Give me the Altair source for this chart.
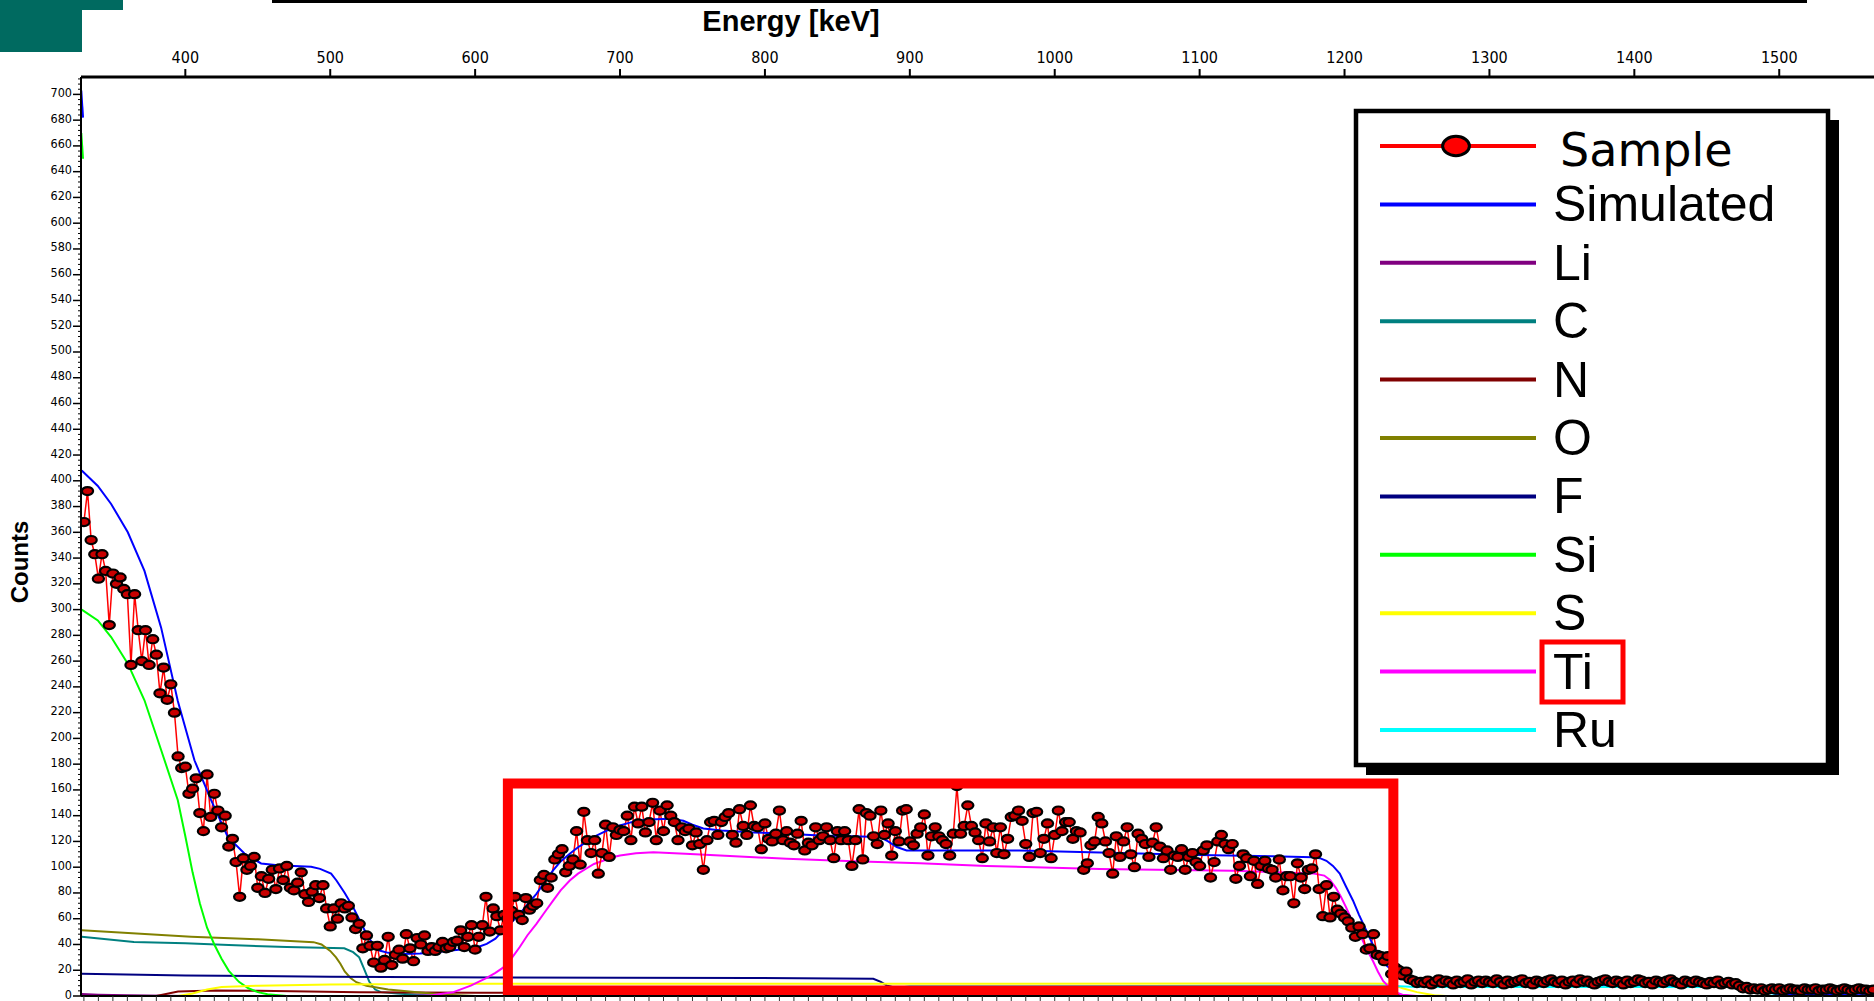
import altair as alt
import pandas as pd

# ---------------- data ----------------
SAMPLE_START = 330.0   # keV, first channel
SAMPLE_STEP = 2.5      # keV per channel
SAMPLE_COUNTS = [
    # 330 - 377.5
    368, 392, 354, 343, 324, 343, 330, 288, 328, 320, 325, 316, 312, 257, 312, 284, 260, 284, 257, 277,
    # 380 - 427.5
    265, 235, 255, 230, 242, 220, 186, 177, 178, 157, 161, 169, 142, 128, 172, 139, 157, 144, 131, 140,
    # 430 - 477.5
    116, 122, 104, 77, 107, 98, 101, 108, 84, 93, 80, 91, 98, 83, 99, 90, 101, 84, 82, 88,
    # 480 - 527.5
    96, 79, 73, 81, 86, 76, 86, 68, 54, 68, 60, 72, 68, 70, 61, 52, 56, 37, 47, 39,
    # 530 - 577.5
    26, 39, 22, 28, 46, 24, 32, 36, 29, 48, 37, 27, 45, 40, 47, 35, 38, 35, 38, 42,
    # 580 - 627.5
    37, 38, 42, 43, 51, 38, 46, 55, 36, 46, 55, 77, 50, 68, 62, 51, 63, 60, 66, 77,
    # 630 - 677.5
    63, 59, 76, 67, 70, 72, 90, 94, 84, 92, 106, 110, 114, 96, 101, 106, 128, 102, 143, 121,
    # 680 - 727.5
    111, 121, 95, 111, 133, 108, 131, 125, 129, 128, 140, 121, 147, 134, 147, 127, 135, 150, 121, 144,
    # 730 - 777.5
    128, 148, 140, 135, 121, 131, 128, 130, 117, 127, 118, 98, 121, 135, 136, 125, 135, 139, 142, 125,
    # 780 - 827.5
    119, 145, 132, 125, 148, 132, 131, 114, 134, 122, 120, 126, 144, 121, 128, 119, 117, 126, 136, 113,
    # 830 - 877.5
    119, 117, 131, 121, 124, 131, 121, 107, 128, 121, 128, 121, 101, 121, 145, 106, 142, 140, 124, 118,
    # 880 - 927.5
    144, 125, 134, 109, 128, 120, 144, 145, 120, 117, 126, 131, 141, 109, 124, 131, 124, 121, 118, 109,
    # 930 - 977.5
    126, 163, 126, 132, 148, 132, 127, 121, 107, 134, 120, 131, 111, 131, 110, 122, 139, 140, 144, 136,
    # 980 - 1027.5
    118, 108, 142, 143, 111, 122, 134, 107, 125, 144, 128, 135, 135, 122, 128, 127, 98, 103, 117, 120,
    # 1030 - 1077.5
    139, 134, 120, 111, 95, 124, 108, 120, 131, 110, 100, 126, 122, 118, 108, 119, 131, 116, 107, 113,
    # 1080 - 1127.5
    98, 109, 108, 114, 98, 108, 111, 104, 101, 113, 117, 92, 104, 120, 125, 118, 114, 118, 91, 101,
    # 1130 - 1177.5
    110, 107, 93, 105, 87, 101, 105, 99, 98, 92, 106, 82, 93, 93, 72, 103, 92, 83, 98, 99,
    # 1180 - 1227.5
    110, 83, 62, 86, 61, 77, 67, 64, 61, 58, 53, 46, 54, 48, 36, 37, 48, 32, 31, 27,
    # 1230 - 1277.5
    31, 17, 22, 20, 16, 19, 13, 12, 10, 11, 10, 12, 9, 11, 13, 10, 12, 11, 9, 12,
    # 1280 - 1327.5
    10, 11, 13, 9, 11, 12, 10, 12, 11, 10, 13, 11, 9, 12, 10, 11, 12, 13, 10, 11,
    # 1330 - 1377.5
    9, 12, 11, 10, 12, 13, 11, 10, 12, 9, 11, 12, 10, 13, 11, 12, 10, 9, 11, 12,
    # 1380 - 1427.5
    13, 11, 10, 12, 11, 9, 12, 10, 11, 13, 12, 10, 11, 9, 12, 11, 10, 12, 13, 11,
    # 1430 - 1477.5
    10, 9, 12, 11, 10, 12, 11, 10, 9, 11, 10, 12, 9, 10, 11, 9, 10, 8, 6, 7,
    # 1480 - 1527.5
    5, 6, 5, 6, 4, 5, 6, 5, 6, 4, 5, 6, 5, 5, 4, 6, 5, 5, 6, 4,
    # 1530 - 1565
    5, 5, 6, 5, 4, 5, 6, 5, 4, 5, 6, 5, 5, 4, 5,
]

SIMULATED = [
    (328.5, 408), (339.6, 396), (348.8, 382), (360.3, 360), (371.8, 330), (383.3, 286),
    (394.8, 229), (406.3, 183), (417.8, 152), (429.3, 123.5), (440.8, 110.6), (452.3, 102.9),
    (463.8, 101.6), (475, 101), (486.8, 100.3), (493, 98.7), (500.6, 95), (504.3, 89.7),
    (510, 80), (515.8, 69), (522.7, 53.4), (526, 46), (529.6, 40.5), (534, 35.3), (540, 33.5),
    (550, 32.7), (562, 33), (573, 34), (585, 35.5), (596, 36.6), (602, 38), (608, 40.5),
    (614, 44.5), (619.3, 50.9), (625, 57), (630.8, 63.8), (636, 71), (642.3, 79.3), (648, 88.5),
    (653.8, 97.5), (659, 104.5), (665.3, 110.4), (671, 115.5), (676.8, 119.4), (682, 123.5),
    (688.3, 127), (694, 130), (699.8, 132.4), (705, 134), (711.5, 136), (720, 137),
    (734.5, 137.7), (743.7, 136), (750, 133), (757.5, 130), (770, 128.5), (792, 127),
    (815, 126), (838, 124.7), (860, 124), (879, 123.5), (885, 120), (891, 115.7), (897.8, 113),
    (910, 113), (976, 113), (1031, 111.4), (1100, 109.5), (1150, 108.5), (1178, 107.8),
    (1183, 107), (1187.5, 105), (1192, 101), (1196.7, 95), (1201, 85), (1205.9, 74),
    (1210, 63), (1215, 51), (1219.5, 40), (1224, 30), (1228.5, 24), (1233, 20), (1240, 16),
    (1247, 13), (1255, 10.5), (1265, 9.5), (1300, 9), (1400, 8.5), (1470, 8), (1480, 6),
    (1490, 3), (1500, 1.5), (1520, 1), (1565, 0.5),
]
SIMULATED_TOP = [(328.2, 703), (329.4, 682)]

LI = [(328.5, 1.5), (340, 1), (360, 0.5), (400, 0)]
C_EL = [(328.5, 46), (364.5, 42), (400, 41), (430, 39.5), (470, 38), (509.7, 37), (515.8, 34),
        (520, 30), (523, 22), (527, 11), (531, 5), (535, 3), (546, 2), (560, 1), (580, 0)]
N_EL = [(380, 0), (395, 3.5), (420, 4.2), (450, 4), (520, 3), (600, 2.5), (900, 2),
        (1230, 1.5), (1245, 0)]
O_EL = [(328.5, 51), (404, 46), (450, 44), (488.5, 41.8), (494, 40), (500, 35), (504, 30),
        (507, 25), (510, 19), (514, 14), (518, 10.7), (525, 8), (540, 5), (560, 3), (580, 1),
        (600, 0)]
F_EL = [(328.5, 17.3), (400, 16), (500, 15), (615, 14.4), (700, 14.1), (792, 14),
        (874.8, 13.4), (880, 11), (884, 8.2), (888.6, 6.9), (895, 6), (910, 2)]
SI = [(328.5, 300), (339.6, 291.6), (348.8, 278.7), (360.3, 258), (371.8, 229.6),
      (383.3, 191), (394.8, 152), (400, 124), (405, 96), (410, 72), (415, 53), (420, 40),
      (425, 29), (430, 19.5), (437, 11), (443.5, 6), (450, 3), (456.7, 1.4), (470, 0)]
SI_TOP = [(328.2, 670), (329.4, 650)]
S_EL = [(395, 0), (405, 2), (415, 5), (425, 7), (450, 8), (500, 9), (600, 9.5), (900, 9.5),
        (1200, 9.8), (1232, 9.5), (1240, 6), (1250, 3), (1262, 0.5), (1270, 0)]
TI = [(555, 0), (570, 0.5), (585, 3), (597, 8), (608, 14), (614, 18), (619.3, 22), (625, 29),
      (630.8, 38), (636, 47), (642.3, 56), (648, 65), (653.8, 74), (659, 82), (665.3, 89.7),
      (671, 95), (676.8, 99), (682, 102.5), (688.3, 105), (694, 107.5), (700, 109),
      (711, 110.9), (723, 111.7), (745, 110.5), (769, 109), (815, 106.6), (861, 104.7),
      (907, 103), (953, 101), (1031, 98.6), (1123, 97.3), (1178, 95.2), (1186, 93.5),
      (1190, 90), (1194, 84), (1197.5, 77), (1201, 69), (1205, 59), (1210.5, 48), (1215, 37),
      (1219.7, 27), (1223, 19), (1226.6, 11.7), (1231, 6.6), (1235, 3), (1240, 1), (1250, 0)]
RU = [(870, 0), (890, 6), (900, 7.5), (1230, 8), (1250, 7), (1470, 7), (1485, 4), (1500, 1),
      (1510, 0)]

LEGEND_NAMES = ["Sample", "Simulated", "Li", "C", "N", "O", "F", "Si", "S", "Ti", "Ru"]
LEGEND_COLORS = ["#FF0000", "#0000FF", "#800080", "#008080", "#800000", "#808000",
                 "#000080", "#00FF00", "#FFFF00", "#FF00FF", "#00FFFF"]

# highlight box (energy keV, counts)
BOX_E = [622.6, 1233.7]
BOX_C = [4.3, 165]

X_TICKS = list(range(400, 1600, 100))
X_MINOR = list(range(330, 1570, 10))
Y_TICKS = list(range(0, 720, 20))
Y_MINOR = [v for v in range(0, 716, 4) if v % 20 != 0]
X_TITLE = "Energy [keV]"
Y_TITLE = "Counts"

# ---------------- geometry ----------------
W, H = 1793, 919
X_DOM = [328.0, 1565.4]
Y_DOM = [0, 713.5]
NARROW = "Liberation Sans Narrow, Arial Narrow, DejaVu Sans Condensed, Liberation Sans, Arial, sans-serif"
ELLIPSE = "M -1 0 A 1 0.72 0 1 0 1 0 A 1 0.72 0 1 0 -1 0 Z"

xs = alt.Scale(domain=X_DOM, nice=False, zero=False)
ys = alt.Scale(domain=Y_DOM, nice=False, zero=False)
XN = alt.X("E:Q", scale=xs, axis=None)
YN = alt.Y("C:Q", scale=ys, axis=None)

# ---------------- frames ----------------
sample_df = pd.DataFrame({
    "E": [SAMPLE_START + SAMPLE_STEP * i for i in range(len(SAMPLE_COUNTS))],
    "C": SAMPLE_COUNTS,
})

rows = []
def add(name, pts, seg):
    for e, c in pts:
        rows.append({"E": e, "C": c, "series": name, "seg": seg})

add("Li", LI, "Li")
add("C", C_EL, "C")
add("N", N_EL, "N")
add("O", O_EL, "O")
add("F", F_EL, "F")
add("Si", SI, "Si")
add("Si", SI_TOP, "Si_top")
add("S", S_EL, "S")
add("Ru", RU, "Ru")
add("Ti", TI, "Ti")
curves_df = pd.DataFrame(rows)

sim_rows = []
for e, c in SIMULATED:
    sim_rows.append({"E": e, "C": c, "seg": "main"})
for e, c in SIMULATED_TOP:
    sim_rows.append({"E": e, "C": c, "seg": "top"})
sim_df = pd.DataFrame(sim_rows)

color_scale = alt.Scale(domain=LEGEND_NAMES, range=LEGEND_COLORS)

curves = alt.Chart(curves_df).mark_line(strokeWidth=2, clip=True).encode(
    x=XN, y=YN,
    color=alt.Color("series:N", scale=color_scale, legend=None),
    detail="seg:N",
)

sample_line = alt.Chart(sample_df).mark_line(color="#FF0000", strokeWidth=1.5, clip=True).encode(
    x=XN, y=YN)

sim_line = alt.Chart(sim_df).mark_line(color="#0000FF", strokeWidth=2, clip=True).encode(
    x=XN, y=YN, detail="seg:N")

sample_pts = alt.Chart(sample_df).mark_point(
    shape=ELLIPSE, size=125, fill="#C80000", fillOpacity=1, stroke="black",
    strokeWidth=2.2, opacity=1, clip=True,
).encode(x=XN, y=YN)

box_df = pd.DataFrame({"E": [BOX_E[0]], "E2": [BOX_E[1]], "C": [BOX_C[0]], "C2": [BOX_C[1]]})
red_box = alt.Chart(box_df).mark_rect(fillOpacity=0, stroke="#FF0000", strokeWidth=10).encode(
    x=XN, x2="E2:Q", y=YN, y2="C2:Q")

# ---------------- axes drawn from the tick arrays ----------------
one = pd.DataFrame({"k": [0]})
xt_df = pd.DataFrame({"E": X_TICKS, "lab": [str(v) for v in X_TICKS]})
yt_df = pd.DataFrame({"C": Y_TICKS, "lab": [str(v) for v in Y_TICKS]})
xm_df = pd.DataFrame({"E": X_MINOR})
ym_df = pd.DataFrame({"C": Y_MINOR})

top_domain = alt.Chart(one).mark_rule(color="black", strokeWidth=3).encode(
    x=alt.value(0), x2=alt.value(W), y=alt.value(0))
top_ticks = alt.Chart(xt_df).mark_rule(color="black", strokeWidth=2).encode(
    x=XN, y=alt.value(-8), y2=alt.value(0))
top_labels = alt.Chart(xt_df).mark_text(
    font=NARROW, fontSize=16, color="black", align="center", baseline="middle",
).encode(x=XN, y=alt.value(-19), text="lab:N")
x_title = alt.Chart(one).mark_text(
    text=X_TITLE, font="Liberation Sans", fontSize=29, fontWeight="bold", color="black",
    align="center", baseline="middle",
).encode(x=alt.value(710), y=alt.value(-55))

left_domain = alt.Chart(one).mark_rule(color="black", strokeWidth=2).encode(
    x=alt.value(0), y=alt.value(0), y2=alt.value(H))
left_ticks = alt.Chart(yt_df).mark_rule(color="black", strokeWidth=1.5).encode(
    y=YN, x=alt.value(-8), x2=alt.value(0))
left_minor = alt.Chart(ym_df).mark_rule(color="black", strokeWidth=1).encode(
    y=YN, x=alt.value(-3), x2=alt.value(1))
left_labels = alt.Chart(yt_df).mark_text(
    font=NARROW, fontSize=12.5, color="black", align="right", baseline="middle", dy=-1.5,
).encode(y=YN, x=alt.value(-9), text="lab:N")
y_title = alt.Chart(one).mark_text(
    text=Y_TITLE, font="Liberation Sans", fontSize=24, fontWeight="bold", color="black",
    align="center", baseline="middle", angle=270,
).encode(x=alt.value(-60), y=alt.value(485))

bottom_line = alt.Chart(one).mark_rule(color="black", strokeWidth=2).encode(
    x=alt.value(0), x2=alt.value(W), y=alt.value(H))
bottom_ticks = alt.Chart(xm_df).mark_rule(color="#333333", strokeWidth=1).encode(
    x=XN, y=alt.value(H), y2=alt.value(H + 5))

axes = [top_domain, top_ticks, top_labels, x_title, left_domain, left_ticks, left_minor,
        left_labels, y_title, bottom_line, bottom_ticks]

# ---------------- legend & page decorations (pixel placed) ----------------
LEG_X0, LEG_X1, LEG_TXT = 1299, 1455, 1472
LEG_Y0, LEG_DY = 69, 58.4

shadow = alt.Chart(one).mark_rect(color="black").encode(
    x=alt.value(1285), x2=alt.value(1758), y=alt.value(43), y2=alt.value(698))
frame = alt.Chart(one).mark_rect(fill="white", stroke="black", strokeWidth=4.5).encode(
    x=alt.value(1275), x2=alt.value(1747), y=alt.value(34), y2=alt.value(688))

legend_parts = [shadow, frame]
for i, (name, col) in enumerate(zip(LEGEND_NAMES, LEGEND_COLORS)):
    yv = LEG_Y0 + LEG_DY * i
    legend_parts.append(
        alt.Chart(one).mark_rule(strokeWidth=4, color=col).encode(
            x=alt.value(LEG_X0), x2=alt.value(LEG_X1), y=alt.value(yv)))
    if name == "Sample":
        legend_parts.append(
            alt.Chart(one).mark_point(
                shape=ELLIPSE, size=720, fill="#FF0000", fillOpacity=1, stroke="black",
                strokeWidth=3, opacity=1,
            ).encode(x=alt.value(1375), y=alt.value(yv)))
        legend_parts.append(
            alt.Chart(one).mark_text(
                text=name, align="left", baseline="middle", fontSize=46,
                font="DejaVu Sans", color="black",
            ).encode(x=alt.value(1479), y=alt.value(yv + 6)))
    else:
        legend_parts.append(
            alt.Chart(one).mark_text(
                text=name, align="left", baseline="middle", fontSize=50,
                font="Liberation Sans", color="black",
            ).encode(x=alt.value(LEG_TXT), y=alt.value(yv + 2)))

ti_box = alt.Chart(one).mark_rect(fillOpacity=0, stroke="#FF0000", strokeWidth=5).encode(
    x=alt.value(1461), x2=alt.value(1542), y=alt.value(565), y2=alt.value(625))
legend_parts.append(ti_box)

teal_a = alt.Chart(one).mark_rect(color="#006A60").encode(
    x=alt.value(-81), x2=alt.value(42), y=alt.value(-77), y2=alt.value(-67))
teal_b = alt.Chart(one).mark_rect(color="#006A60").encode(
    x=alt.value(-81), x2=alt.value(1), y=alt.value(-77), y2=alt.value(-25))
top_line = alt.Chart(one).mark_rect(color="black").encode(
    x=alt.value(191), x2=alt.value(1726), y=alt.value(-77), y2=alt.value(-74))

chart = alt.layer(
    curves, sample_line, sim_line, sample_pts, red_box, *axes,
    *legend_parts, teal_a, teal_b, top_line,
).properties(
    width=W, height=H,
    padding={"left": 81, "top": 77, "right": 0, "bottom": 5},
    autosize=alt.AutoSizeParams(type="none"),
    background="white",
).configure_view(strokeWidth=0)

chart.save("out.html", embed_options={"renderer": "svg", "actions": False})
